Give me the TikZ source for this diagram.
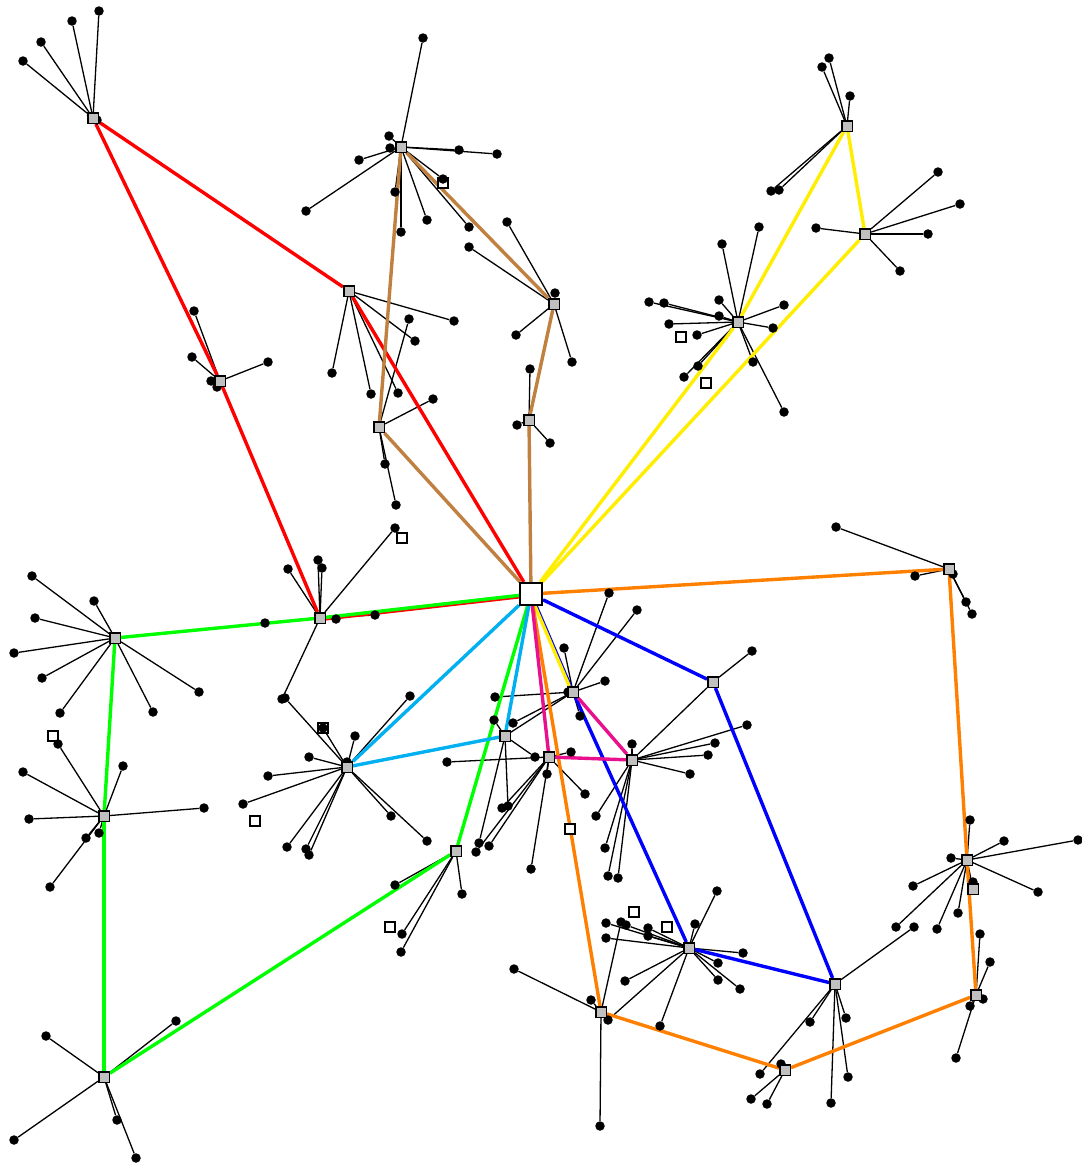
\documentclass[tikz,border=0pt]{standalone}
\pgfdeclarelayer{bg}
\pgfdeclarelayer{leaflines}
\pgfdeclarelayer{colored}
\pgfdeclarelayer{front}
\pgfsetlayers{bg,leaflines,colored,main,front}
\definecolor{cred}{RGB}{255,0,0}
\definecolor{cbrown}{RGB}{192,128,64}
\definecolor{cyell}{RGB}{255,238,0}
\definecolor{corange}{RGB}{255,128,0}
\definecolor{cgreen}{RGB}{0,255,0}
\definecolor{ccyan}{RGB}{0,176,240}
\definecolor{cblue}{RGB}{0,0,255}
\definecolor{cmag}{RGB}{232,16,140}
\definecolor{hubgray}{RGB}{192,192,192}
\tikzset{
  leaf/.style={circle,fill=black,inner sep=0pt,minimum size=9.5pt},
  hub/.style={rectangle,draw=black,fill=hubgray,line width=1.5pt,inner sep=0pt,minimum size=10.5pt},
  center/.style={rectangle,draw=black,fill=white,line width=2pt,inner sep=0pt,minimum size=22pt},
  wsq/.style={rectangle,draw=black,fill=white,line width=1.8pt,inner sep=0pt,minimum size=10pt},
  leafline/.style={draw=black,line width=1.3pt},
  link/.style={line width=3.4pt},
}
\newcommand\leafset[2]{%
  \foreach \lx/\ly [count=\i] in {#2} {%
    \node[leaf] (#1-\i) at (\lx,\ly) {};
    \begin{pgfonlayer}{leaflines}\draw[leafline] (#1) -- (#1-\i);\end{pgfonlayer}
  }}
\begin{document}
\begin{tikzpicture}[x=1pt,y=-1pt]
\begin{pgfonlayer}{bg}
\fill[white] (0,0) rectangle (1082,1168);
\end{pgfonlayer}
\useasboundingbox (0,0) rectangle (1082,1168);
\begin{pgfonlayer}{front}
\node[center] (c) at (531,594) {};
\node[hub] (h1) at (93,118) {};
\node[hub] (h2) at (401,147) {};
\node[hub] (h3) at (847,126) {};
\node[hub] (h4) at (865,234) {};
\node[hub] (h5) at (738,322) {};
\node[hub] (h6) at (349,291) {};
\node[hub] (h7) at (554,304) {};
\node[hub] (h8) at (220,381) {};
\node[hub] (h9) at (379,427) {};
\node[hub] (h10) at (529,420) {};
\node[hub] (h11) at (949,569) {};
\node[hub] (h12) at (115,638) {};
\node[hub] (h13) at (320,618) {};
\node[hub] (h14) at (713,682) {};
\node[hub] (h15) at (573,692) {};
\node[hub] (h16) at (505,736) {};
\node[hub] (h17) at (549,757) {};
\node[hub] (h18) at (632,760) {};
\node[hub] (h19) at (347,767) {};
\node[hub] (h20) at (104,816) {};
\node[hub] (h21) at (456,851) {};
\node[hub] (h22) at (967,860) {};
\node[hub] (h22b) at (973,889) {};
\node[hub] (h23) at (689,948) {};
\node[hub] (h24) at (835,984) {};
\node[hub] (h25) at (976,995) {};
\node[hub] (h26) at (601,1012) {};
\node[hub] (h27) at (785,1070) {};
\node[hub] (h28) at (104,1077) {};
\end{pgfonlayer}
% white squares
\node[wsq] (w1) at (443,183) {};
\node[wsq] (w2) at (681,337) {};
\node[wsq] (w3) at (706,383) {};
\node[wsq] (w4) at (402,538) {};
\node[wsq] (w5) at (323,728) {};
\node[wsq] (w6) at (255,821) {};
\node[wsq] (w7) at (53,736) {};
\node[wsq] (w8) at (390,927) {};
\node[wsq] (w9) at (634,912) {};
\node[wsq] (w10) at (667,927) {};
\node[wsq] (w11) at (570,829) {};
% leaves
\leafset{h1}{23/61,41/42,72/21,99/11,97/120}
\leafset{h2}{423/38,389/136,390/148,459/150,497/154,443/179,395/192,401/232,427/220,469/227,359/160,306/211}
\leafset{h3}{829/58,822/67,850/96,771/191,779/190}
\leafset{h4}{816/228,938/172,960/204,928/234,900/271}
\leafset{h5}{759/227,722/244,784/305,773/328,753/362,784/412,649/302,664/303,719/300,719/316,669/324,697/335,684/377,698/366}
\leafset{h6}{332/373,454/321,415/341,371/394,398/393}
\leafset{h7}{507/222,469/247,555/293,516/335,572/362}
\leafset{h8}{194/311,192/357,268/362,211/381,217/387}
\leafset{h9}{409/319,433/399,385/464,396/505}
\leafset{h10}{517/425,550/443,530/369}
\leafset{h11}{836/527,915/576,966/602,972/614,953/574}
\leafset{h12}{32/576,94/601,35/618,14/653,42/678,60/713,153/712,199/692}
\leafset{h13}{288/569,318/560,322/568,336/619,265/623,282/699,395/528,375/615}
\leafset{h14}{752/651}
\leafset{h15}{564/648,605/681,580/716,568/692,609/593,637/610,495/697,513/723}
\leafset{h16}{494/720,535/757,508/806,479/843}
\leafset{h17}{447/762,571/752,547/774,585/794,502/808,476/852,489/846,531/869}
\leafset{h18}{632/744,715/743,708/755,690/774,747/725,596/816,605/848,608/876,618/878}
\leafset{h19}{285/698,355/736,410/696,309/757,268/776,243/804,287/847,306/849,309/855,391/816,427/841,347/762,323/728}
\leafset{h20}{29/819,204/808,86/838,99/833,50/887,58/744,23/772,123/766}
\leafset{h21}{395/885,462/894,402/934,401/952}
\leafset{h22}{970/820,1004/841,1078/840,951/858,913/886,1038/892,896/927,937/929,958/913}
\leafset{h22b}{973/882}
\leafset{h23}{717/891,695/924,743/953,718/963,718/980,740/989,606/923,626/925,648/928,648/936,606/938,625/981,660/1026,608/1020}
\leafset{h24}{914/927,846/1018,848/1077,831/1103,810/1022,760/1074}
\leafset{h25}{980/934,990/962,983/999,970/1006,956/1058}
\leafset{h26}{514/969,600/1126,591/1000,621/922}
\leafset{h27}{781/1064,751/1099,767/1104}
\leafset{h28}{46/1036,176/1021,14/1140,117/1120,136/1158}
\leafset{c}{535/601}
\begin{pgfonlayer}{leaflines}
\draw[leafline] (h15) -- (h16);
\draw[leafline] (h18) -- (h14);
\draw[leafline] (h22) -- (h22b);
\end{pgfonlayer}
\begin{pgfonlayer}{colored}
% red
\draw[link,cred] (h1) -- (h6);
\draw[link,cred] (h1) -- (h8);
\draw[link,cred] (h8) -- (h13);
\draw[link,cred] (h6) -- (c);
\draw[link,cred,transform canvas={yshift=-1.5pt}] (h13) -- (c);
% brown
\draw[link,cbrown] (h2) -- (h9);
\draw[link,cbrown] (h2) -- (h7);
\draw[link,cbrown] (h7) -- (h10);
\draw[link,cbrown] (h10) -- (c);
\draw[link,cbrown] (h9) -- (c);
% blue
\draw[link,cblue] (c) -- (h14);
\draw[link,cblue] (h14) -- (h24);
\draw[link,cblue] (h24) -- (h23);
\draw[link,cblue] (h23) -- (h15);
\draw[link,cblue] (c) -- (h15);
% yellow
\draw[link,cyell] (h3) -- (h4);
\draw[link,cyell] (h3) -- (h5);
\draw[link,cyell] (h5) -- (c);
\draw[link,cyell] (h4) -- (c);
\draw[link,cyell,transform canvas={xshift=-1.2pt}] (c) -- (h15);
% orange
\draw[link,corange] (c) -- (h11);
\draw[link,corange] (h11) -- (h22);
\draw[link,corange] (h22) -- (h25);
\draw[link,corange] (c) -- (h26);
\draw[link,corange] (h26) -- (h27);
\draw[link,corange] (h27) -- (h25);
% green
\draw[link,cgreen] (h12) -- (h13);
\draw[link,cgreen] (h13) -- (c);
\draw[link,cgreen] (h12) -- (h20);
\draw[link,cgreen] (h20) -- (h28);
\draw[link,cgreen] (h28) -- (h21);
\draw[link,cgreen] (h21) -- (c);
% cyan
\draw[link,ccyan] (c) -- (h19);
\draw[link,ccyan] (h19) -- (h16);
\draw[link,ccyan] (h16) -- (c);
% magenta
\draw[link,cmag] (c) -- (h17);
\draw[link,cmag] (h17) -- (h18);
\draw[link,cmag] (h18) -- (h15);
\end{pgfonlayer}
\end{tikzpicture}
\end{document}
